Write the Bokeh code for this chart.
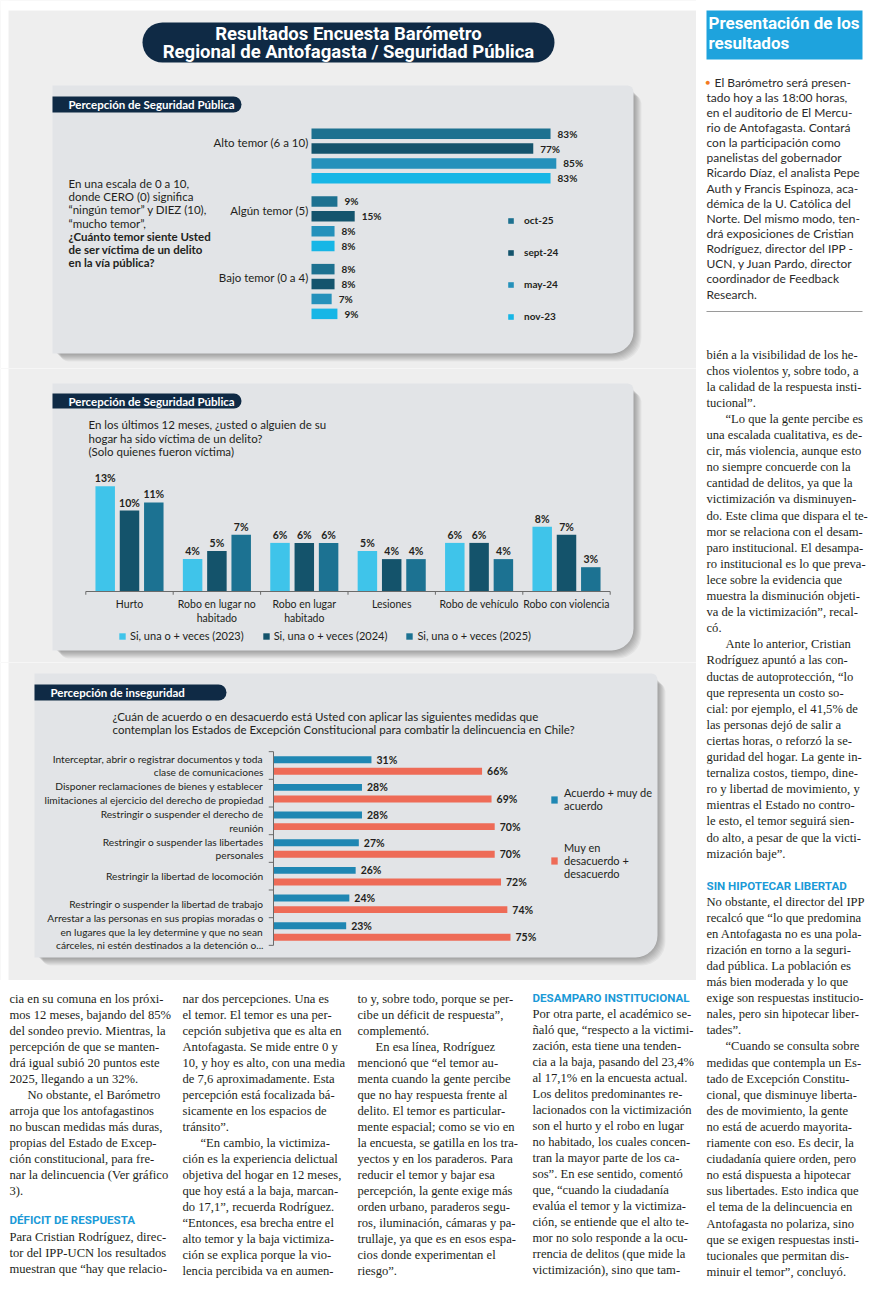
from bokeh.plotting import figure
from bokeh.models import Range1d, ColumnDataSource, Label, BoxAnnotation
from bokeh.layouts import column, row
from bokeh.transform import dodge
from bokeh.core.properties import value
from bokeh.embed import file_html
from bokeh.resources import INLINE

# ------------------------------------------------------------------ data
fear_categories = ["Alto temor (6 a 10)", "Algún temor (5)", "Bajo temor (0 a 4)"]
fear_series = ["oct-25", "sept-24", "may-24", "nov-23"]
fear_oct25 = [83, 9, 8]
fear_sept24 = [77, 15, 8]
fear_may24 = [85, 8, 7]
fear_nov23 = [83, 8, 9]

crime_categories = ["Hurto", "Robo en lugar no\nhabitado", "Robo en lugar\nhabitado",
                    "Lesiones", "Robo de vehículo", "Robo con violencia"]
crime_series = ["Si, una o + veces (2023)", "Si, una o + veces (2024)", "Si, una o + veces (2025)"]
crime_2023 = [13, 4, 6, 5, 6, 8]
crime_2024 = [10, 5, 6, 4, 6, 7]
crime_2025 = [11, 7, 6, 4, 4, 3]

measure_categories = [
    "Interceptar, abrir o registrar documentos y toda\nclase de comunicaciones",
    "Disponer reclamaciones de bienes y establecer\nlimitaciones al ejercicio del derecho de propiedad",
    "Restringir o suspender el derecho de\nreunión",
    "Restringir o suspender las libertades\npersonales",
    "Restringir la libertad de locomoción",
    "Restringir o suspender la libertad de trabajo",
    "Arrestar a las personas en sus propias moradas o\nen lugares que la ley determine y que no sean\ncárceles, ni estén destinados a la detención o...",
]
measure_series = ["Acuerdo + muy de\nacuerdo", "Muy en\ndesacuerdo +\ndesacuerdo"]
measure_agree = [31, 28, 28, 27, 26, 24, 23]
measure_disagree = [66, 69, 70, 70, 72, 74, 75]

header_lines = ["Resultados Encuesta Barómetro", "Regional de Antofagasta / Seguridad Pública"]
tab_titles = ["Percepción de Seguridad Pública", "Percepción de Seguridad Pública", "Percepción de inseguridad"]
q1_normal = ["En una escala de 0 a 10,", "donde CERO (0) significa",
             "“ningún temor” y DIEZ (10),", "“mucho temor”,"]
q1_bold = ["¿Cuánto temor siente Usted", "de ser víctima de un delito", "en la vía pública?"]
q2_lines = ["En los últimos 12 meses, ¿usted o alguien de su",
            "hogar ha sido víctima de un delito?", "(Solo quienes fueron víctima)"]
q3_lines = ["¿Cuán de acuerdo o en desacuerdo está Usted con aplicar las siguientes medidas que",
            "contemplan los Estados de Excepción Constitucional para combatir la delincuencia en Chile?"]

# ------------------------------------------------------------------ article text
box_title = ["Presentación de los", "resultados"]
right_intro = ["El Barómetro será presen-", "tado hoy a las 18:00 horas,",
               "en el auditorio de El Mercu-", "rio de Antofagasta. Contará",
               "con la participación como", "panelistas del gobernador",
               "Ricardo Díaz, el analista Pepe", "Auth y Francis Espinoza, aca-",
               "démica de la U. Católica del", "Norte. Del mismo modo, ten-",
               "drá exposiciones de Cristian", "Rodríguez, director del IPP -",
               "UCN, y Juan Pardo, director", "coordinador de Feedback", "Research."]
right_body_a = [
    (False, ["bién a la visibilidad de los he-", "chos violentos y, sobre todo, a",
             "la calidad de la respuesta insti-", "tucional”."]),
    (True, ["“Lo que la gente percibe es", "una escalada cualitativa, es de-",
            "cir, más violencia, aunque esto", "no siempre concuerde con la",
            "cantidad de delitos, ya que la", "victimización va disminuyen-",
            "do. Este clima que dispara el te-", "mor se relaciona con el desam-",
            "paro institucional. El desampa-", "ro institucional es lo que preva-",
            "lece sobre la evidencia que", "muestra la disminución objeti-",
            "va de la victimización”, recal-", "có."]),
    (True, ["Ante lo anterior, Cristian", "Rodríguez apuntó a las con-",
            "ductas de autoprotección, “lo", "que representa un costo so-",
            "cial: por ejemplo, el 41,5% de", "las personas dejó de salir a",
            "ciertas horas, o reforzó la se-", "guridad del hogar. La gente in-",
            "ternaliza costos, tiempo, dine-", "ro y libertad de movimiento, y",
            "mientras el Estado no contro-", "le esto, el temor seguirá sien-",
            "do alto, a pesar de que la victi-", "mización baje”."]),
]
right_head = "SIN HIPOTECAR LIBERTAD"
right_body_b = [
    (False, ["No obstante, el director del IPP", "recalcó que “lo que predomina",
             "en Antofagasta no es una pola-", "rización en torno a la seguri-",
             "dad pública. La población es", "más bien moderada y lo que",
             "exige son respuestas institucio-", "nales, pero sin hipotecar liber-",
             "tades”."]),
    (True, ["“Cuando se consulta sobre", "medidas que contempla un Es-",
            "tado de Excepción Constitu-", "cional, que disminuye liberta-",
            "des de movimiento, la gente", "no está de acuerdo mayorita-",
            "riamente con eso. Es decir, la", "ciudadanía quiere orden, pero",
            "no está dispuesta a hipotecar", "sus libertades. Esto indica que",
            "el tema de la delincuencia en", "Antofagasta no polariza, sino",
            "que se exigen respuestas insti-", "tucionales que permitan dis-",
            "minuir el temor”, concluyó."]),
]
col1_a = [
    (False, ["cia en su comuna en los próxi-", "mos 12 meses, bajando del 85%",
             "del sondeo previo. Mientras, la", "percepción de que se manten-",
             "drá igual subió 20 puntos este", "2025, llegando a un 32%."]),
    (True, ["No obstante, el Barómetro", "arroja que los antofagastinos",
            "no buscan medidas más duras,", "propias del Estado de Excep-",
            "ción constitucional, para fre-", "nar la delincuencia (Ver gráfico", "3)."]),
]
col1_head = "DÉFICIT DE RESPUESTA"
col1_b = [(False, ["Para Cristian Rodríguez, direc-", "tor del IPP-UCN los resultados",
                   "muestran que “hay que relacio-"])]
col2 = [
    (False, ["nar dos percepciones. Una es", "el temor. El temor es una per-",
             "cepción subjetiva que es alta en", "Antofagasta. Se mide entre 0 y",
             "10, y hoy es alto, con una media", "de 7,6 aproximadamente. Esta",
             "percepción está focalizada bá-", "sicamente en los espacios de", "tránsito”."]),
    (True, ["“En cambio, la victimiza-", "ción es la experiencia delictual",
            "objetiva del hogar en 12 meses,", "que hoy está a la baja, marcan-",
            "do 17,1”, recuerda Rodríguez.", "“Entonces, esa brecha entre el",
            "alto temor y la baja victimiza-", "ción se explica porque la vio-",
            "lencia percibida va en aumen-"]),
]
col3 = [
    (False, ["to y, sobre todo, porque se per-", "cibe un déficit de respuesta”,", "complementó."]),
    (True, ["En esa línea, Rodríguez", "mencionó que “el temor au-",
            "menta cuando la gente percibe", "que no hay respuesta frente al",
            "delito. El temor es particular-", "mente espacial; como se vio en",
            "la encuesta, se gatilla en los tra-", "yectos y en los paraderos. Para",
            "reducir el temor y bajar esa", "percepción, la gente exige más",
            "orden urbano, paraderos segu-", "ros, iluminación, cámaras y pa-",
            "trullaje, ya que es en esos espa-", "cios donde experimentan el", "riesgo”."]),
]
col4_head = "DESAMPARO INSTITUCIONAL"
col4 = [(False, ["Por otra parte, el académico se-", "ñaló que, “respecto a la victimi-",
                 "zación, esta tiene una tenden-", "cia a la baja, pasando del 23,4%",
                 "al 17,1% en la encuesta actual.", "Los delitos predominantes re-",
                 "lacionados con la victimización", "son el hurto y el robo en lugar",
                 "no habitado, los cuales concen-", "tran la mayor parte de los ca-",
                 "sos”. En ese sentido, comentó", "que, “cuando la ciudadanía",
                 "evalúa el temor y la victimiza-", "ción, se entiende que el alto te-",
                 "mor no solo responde a la ocu-", "rrencia de delitos (que mide la",
                 "victimización), sino que tam-"])]

# ------------------------------------------------------------------ styles
PAGE_BG = "#eeeeee"
PANEL_BG = "#e2e4e7"
NAVY = "#0f2a45"
INK = "#231f20"
AXIS = "#6b6b6b"
FONT = "Lato"
SERIF = "Liberation Serif"
BODY_SIZE = "12.6px"
HEAD_BLUE = "#1b9ad7"
FEAR_COLORS = ["#1d7190", "#14546d", "#2591bb", "#17b6e6"]
CRIME_COLORS = ["#3fc4ea", "#14536b", "#1c7292"]
MEASURE_COLORS = ["#1f87b3", "#ee6b57"]
W = 696          # left (graphic + bottom text) column
WR = 174         # right text column


def lin_range(size, zero_px, ppu):
    """value axis growing right (or up): value 0 sits zero_px from the left/bottom."""
    return Range1d(-zero_px / ppu, (size - zero_px) / ppu)


def down_range(size, first_px, pitch):
    """category index axis growing downwards: index 0 sits first_px from the top."""
    return Range1d((size - first_px) / pitch, -first_px / pitch)


def base_fig(w, h, bg=PAGE_BG, **kw):
    p = figure(width=w, height=h, output_backend="svg", toolbar_location=None, tools="",
               min_border=0, x_axis_location=None, y_axis_location=None,
               outline_line_color=None, border_fill_color=bg,
               background_fill_color=bg, **kw)
    p.grid.visible = False
    return p


def cbox(p, l, t, r, b, color, alpha=1.0, radius=0):
    p.add_layout(BoxAnnotation(left=l, right=r, top=t, bottom=b,
                               left_units="canvas", right_units="canvas",
                               top_units="canvas", bottom_units="canvas",
                               fill_color=color, fill_alpha=alpha, line_color=None,
                               level="underlay", border_radius=radius))


def clabel(p, x, y, text, size="11px", color=INK, bold=False, align="left", font=FONT):
    p.add_layout(Label(x=x, y=y, x_units="canvas", y_units="canvas", text=text,
                       text_font=font, text_font_size=size, text_color=color,
                       text_font_style="bold" if bold else "normal",
                       text_align=align, text_baseline="middle"))


def panel(p, l, t, r, b, tab_r, tab_t, tab_b, title):
    cbox(p, 0, 0, 8, p.height, "white")
    for k in range(1, 9):
        cbox(p, l + k, t + k + 2, r + k, b + k, "#000000", 0.045, (0, 8, 24, 8))
    cbox(p, l, t, r, b, PANEL_BG, 1.0, (0, 6, 22, 0))
    cbox(p, l, tab_t, tab_r, tab_b, NAVY, 1.0, (0, 9, 9, 0))
    clabel(p, l + 16, (tab_t + tab_b) / 2, title, "11.5px", "white", True)


def style_legend(lg, **kw):
    lg.padding = 0
    lg.margin = 0
    lg.border_line_color = None
    lg.background_fill_alpha = 0
    lg.label_text_font = FONT
    lg.label_text_color = INK
    for k, v in kw.items():
        setattr(lg, k, v)


# ------------------------------------------------------------------ chart 1
H1 = 368
p1 = base_fig(W, H1, x_range=lin_range(W, 311, 2.88), y_range=down_range(H1, 155.5, 67.75))
cbox(p1, 0, 0, W, 10, "white")
cbox(p1, 142, 22, 554, 62, NAVY, 1.0, 20)
clabel(p1, 348, 33, header_lines[0], "18.5px", "white", True, "center", "Roboto")
clabel(p1, 348, 51, header_lines[1], "18.5px", "white", True, "center", "Roboto")
panel(p1, 52, 85, 633, 353, 241, 96, 112, tab_titles[0])
for i, t in enumerate(q1_normal + q1_bold):
    clabel(p1, 68, 183 + i * 13.2, t, "11.5px", INK, i >= len(q1_normal))

fear_pos = list(range(len(fear_categories)))
fear_offsets = [-0.33, -0.11, 0.11, 0.33]
for name, vals, col, off in zip(fear_series, [fear_oct25, fear_sept24, fear_may24, fear_nov23],
                                FEAR_COLORS, fear_offsets):
    src = ColumnDataSource(dict(pos=fear_pos, val=vals, lbl=[f"{v}%" for v in vals]))
    p1.hbar(y=dodge("pos", off), left=0, right="val", height=0.155,
            source=src, fill_color=col, line_color=None, legend_label=name)
    p1.text(x="val", y=dodge("pos", off), text="lbl", source=src,
            x_offset=7, text_baseline="middle", text_font=value(FONT),
            text_font_style="bold", text_font_size="10px", text_color=INK)
p1.text(x=0, y=dodge("pos", -0.2), text="cat",
        source=ColumnDataSource(dict(pos=fear_pos, cat=fear_categories)), x_offset=-3,
        text_align="right", text_baseline="middle", text_font=value(FONT),
        text_font_size="11.5px", text_color=INK)
style_legend(p1.legend[0], location=(507, 46), glyph_width=7, glyph_height=7,
             label_height=12, spacing=20, label_standoff=10,
             label_text_font_style="bold", label_text_font_size="10px")

# ------------------------------------------------------------------ chart 2
H2 = 294
p2 = base_fig(W, H2, x_range=lin_range(W, 129, 87.4), y_range=lin_range(H2, H2 - 223, 8.1))
panel(p2, 52, 15, 633, 282, 241, 25, 40, tab_titles[1])
for i, t in enumerate(q2_lines):
    clabel(p2, 88, 56 + i * 13.5, t, "11.5px")
crime_pos = list(range(len(crime_categories)))
crime_offsets = [-0.278, 0.0, 0.278]
for name, vals, col, off in zip(crime_series, [crime_2023, crime_2024, crime_2025],
                                CRIME_COLORS, crime_offsets):
    src = ColumnDataSource(dict(pos=crime_pos, val=vals, lbl=[f"{v}%" for v in vals]))
    p2.vbar(x=dodge("pos", off), bottom=0, top="val", width=0.223,
            source=src, fill_color=col, line_color=None, legend_label=name)
    p2.text(x=dodge("pos", off), y="val", text="lbl", source=src,
            y_offset=-2, text_align="center", text_baseline="bottom", text_font=value(FONT),
            text_font_style="bold", text_font_size="10.5px", text_color=INK)
n2 = len(crime_categories)
p2.segment(x0=-0.5, x1=n2 - 0.5, y0=0, y1=0, line_color=AXIS, line_width=1)
edges2 = [k - 0.5 for k in range(n2 + 1)]
p2.segment(x0=edges2, x1=edges2, y0=[0] * len(edges2), y1=[-0.4] * len(edges2),
           line_color=AXIS, line_width=1)
p2.text(x="pos", y=0, text="cat", source=ColumnDataSource(dict(pos=crime_pos, cat=crime_categories)),
        y_offset=6, text_align="center", text_baseline="top", text_font=value(FONT),
        text_font_size="10.5px", text_color=INK)
style_legend(p2.legend[0], location=(118, 20), orientation="horizontal",
             glyph_width=8, glyph_height=8, label_height=12, spacing=18,
             label_standoff=4, label_text_font_size="11px")

# ------------------------------------------------------------------ chart 3
H3 = 318
p3 = base_fig(W, H3, x_range=lin_range(W, 273, 3.16), y_range=down_range(H3, 103, 27.67))
panel(p3, 34, 11, 657, 295, 226, 22, 38, tab_titles[2])
for i, t in enumerate(q3_lines):
    clabel(p3, 112, 54 + i * 13, t, "11.5px")
measure_pos = list(range(len(measure_categories)))
for name, vals, col, off in zip(measure_series, [measure_agree, measure_disagree],
                                MEASURE_COLORS, [-0.21, 0.21]):
    src = ColumnDataSource(dict(pos=measure_pos, val=vals, lbl=[f"{v}%" for v in vals]))
    p3.hbar(y=dodge("pos", off), left=0, right="val", height=0.25,
            source=src, fill_color=col, line_color=None, legend_label=name)
    p3.text(x="val", y=dodge("pos", off), text="lbl", source=src,
            x_offset=5, text_baseline="middle", text_font=value(FONT),
            text_font_style="bold", text_font_size="10.5px", text_color=INK)
n3 = len(measure_categories)
p3.segment(x0=0, x1=0, y0=-0.5, y1=n3 - 0.5, line_color=AXIS, line_width=1)
edges3 = [k - 0.5 for k in range(n3 + 1)]
p3.segment(x0=[0] * len(edges3), x1=[-1.5] * len(edges3), y0=edges3, y1=edges3,
           line_color=AXIS, line_width=1)
p3.text(x=0, y="pos", text="cat", source=ColumnDataSource(dict(pos=measure_pos, cat=measure_categories)),
        x_offset=-10, text_align="right", text_baseline="middle", text_font=value(FONT),
        text_font_size="10.2px", text_color=INK, text_line_height=1.15)
style_legend(p3.legend[0], location=(550, 100), glyph_width=8, glyph_height=9,
             label_height=12, spacing=29, label_standoff=6, label_text_font_size="11px")


# ------------------------------------------------------------------ text pages
def text_fig(w, h):
    return base_fig(w, h, bg="white", x_range=Range1d(0, w), y_range=Range1d(h, 0))


def block(p, x, y0, pitch, paras, indent=18, font=SERIF, size=BODY_SIZE, color=INK):
    xs, ys, ts = [], [], []
    i = 0
    for ind, lines in paras:
        for j, line in enumerate(lines):
            xs.append(x + (indent if (ind and j == 0) else 0))
            ys.append(y0 + i * pitch)
            ts.append(line)
            i += 1
    p.text(x=xs, y=ys, text=ts, text_font=value(font), text_font_size=size,
           text_color=color, text_baseline="middle")


def heading(p, x, y, text):
    p.text(x=[x], y=[y], text=[text], text_font=value("Roboto"), text_font_style="bold",
           text_font_size="11.6px", text_color=HEAD_BLUE, text_baseline="middle")


pr = text_fig(WR, 1316)
pr.add_layout(BoxAnnotation(left=10, right=166, top=10, bottom=59, fill_color="#1ea3dd",
                            fill_alpha=1, line_color=None, level="underlay"))
pr.text(x=[12, 12], y=[22, 42], text=box_title, text_font=value("Roboto"),
        text_font_style="bold", text_font_size="17px", text_color="white",
        text_baseline="middle")
pr.text(x=[9], y=[81.5], text=["●"], text_font=value(FONT), text_font_size="8px",
        text_color="#f37a21", text_baseline="middle")
block(pr, 10, 81.5, 15.15, [(True, right_intro)], indent=8, font=FONT, size="12px",
      color="#2b2b2b")
pr.add_layout(BoxAnnotation(left=10, right=166, top=310.5, bottom=311.5, fill_color="#9a9a9a",
                            fill_alpha=1, line_color=None))
block(pr, 10, 354, 16.1, right_body_a, indent=19)
heading(pr, 10, 885, right_head)
block(pr, 10, 901, 16.1, right_body_b, indent=19)

pb = text_fig(W, 336)
block(pb, 9, 18, 16, col1_a)
heading(pb, 9, 239, col1_head)
block(pb, 9, 256, 16, col1_b)
block(pb, 182, 18, 16, col2)
block(pb, 357, 18, 16, col3)
heading(pb, 532, 17, col4_head)
block(pb, 532, 33, 16, col4)

page = row(column(p1, p2, p3, pb), pr)
open("out.html", "w").write(file_html(page, INLINE))
